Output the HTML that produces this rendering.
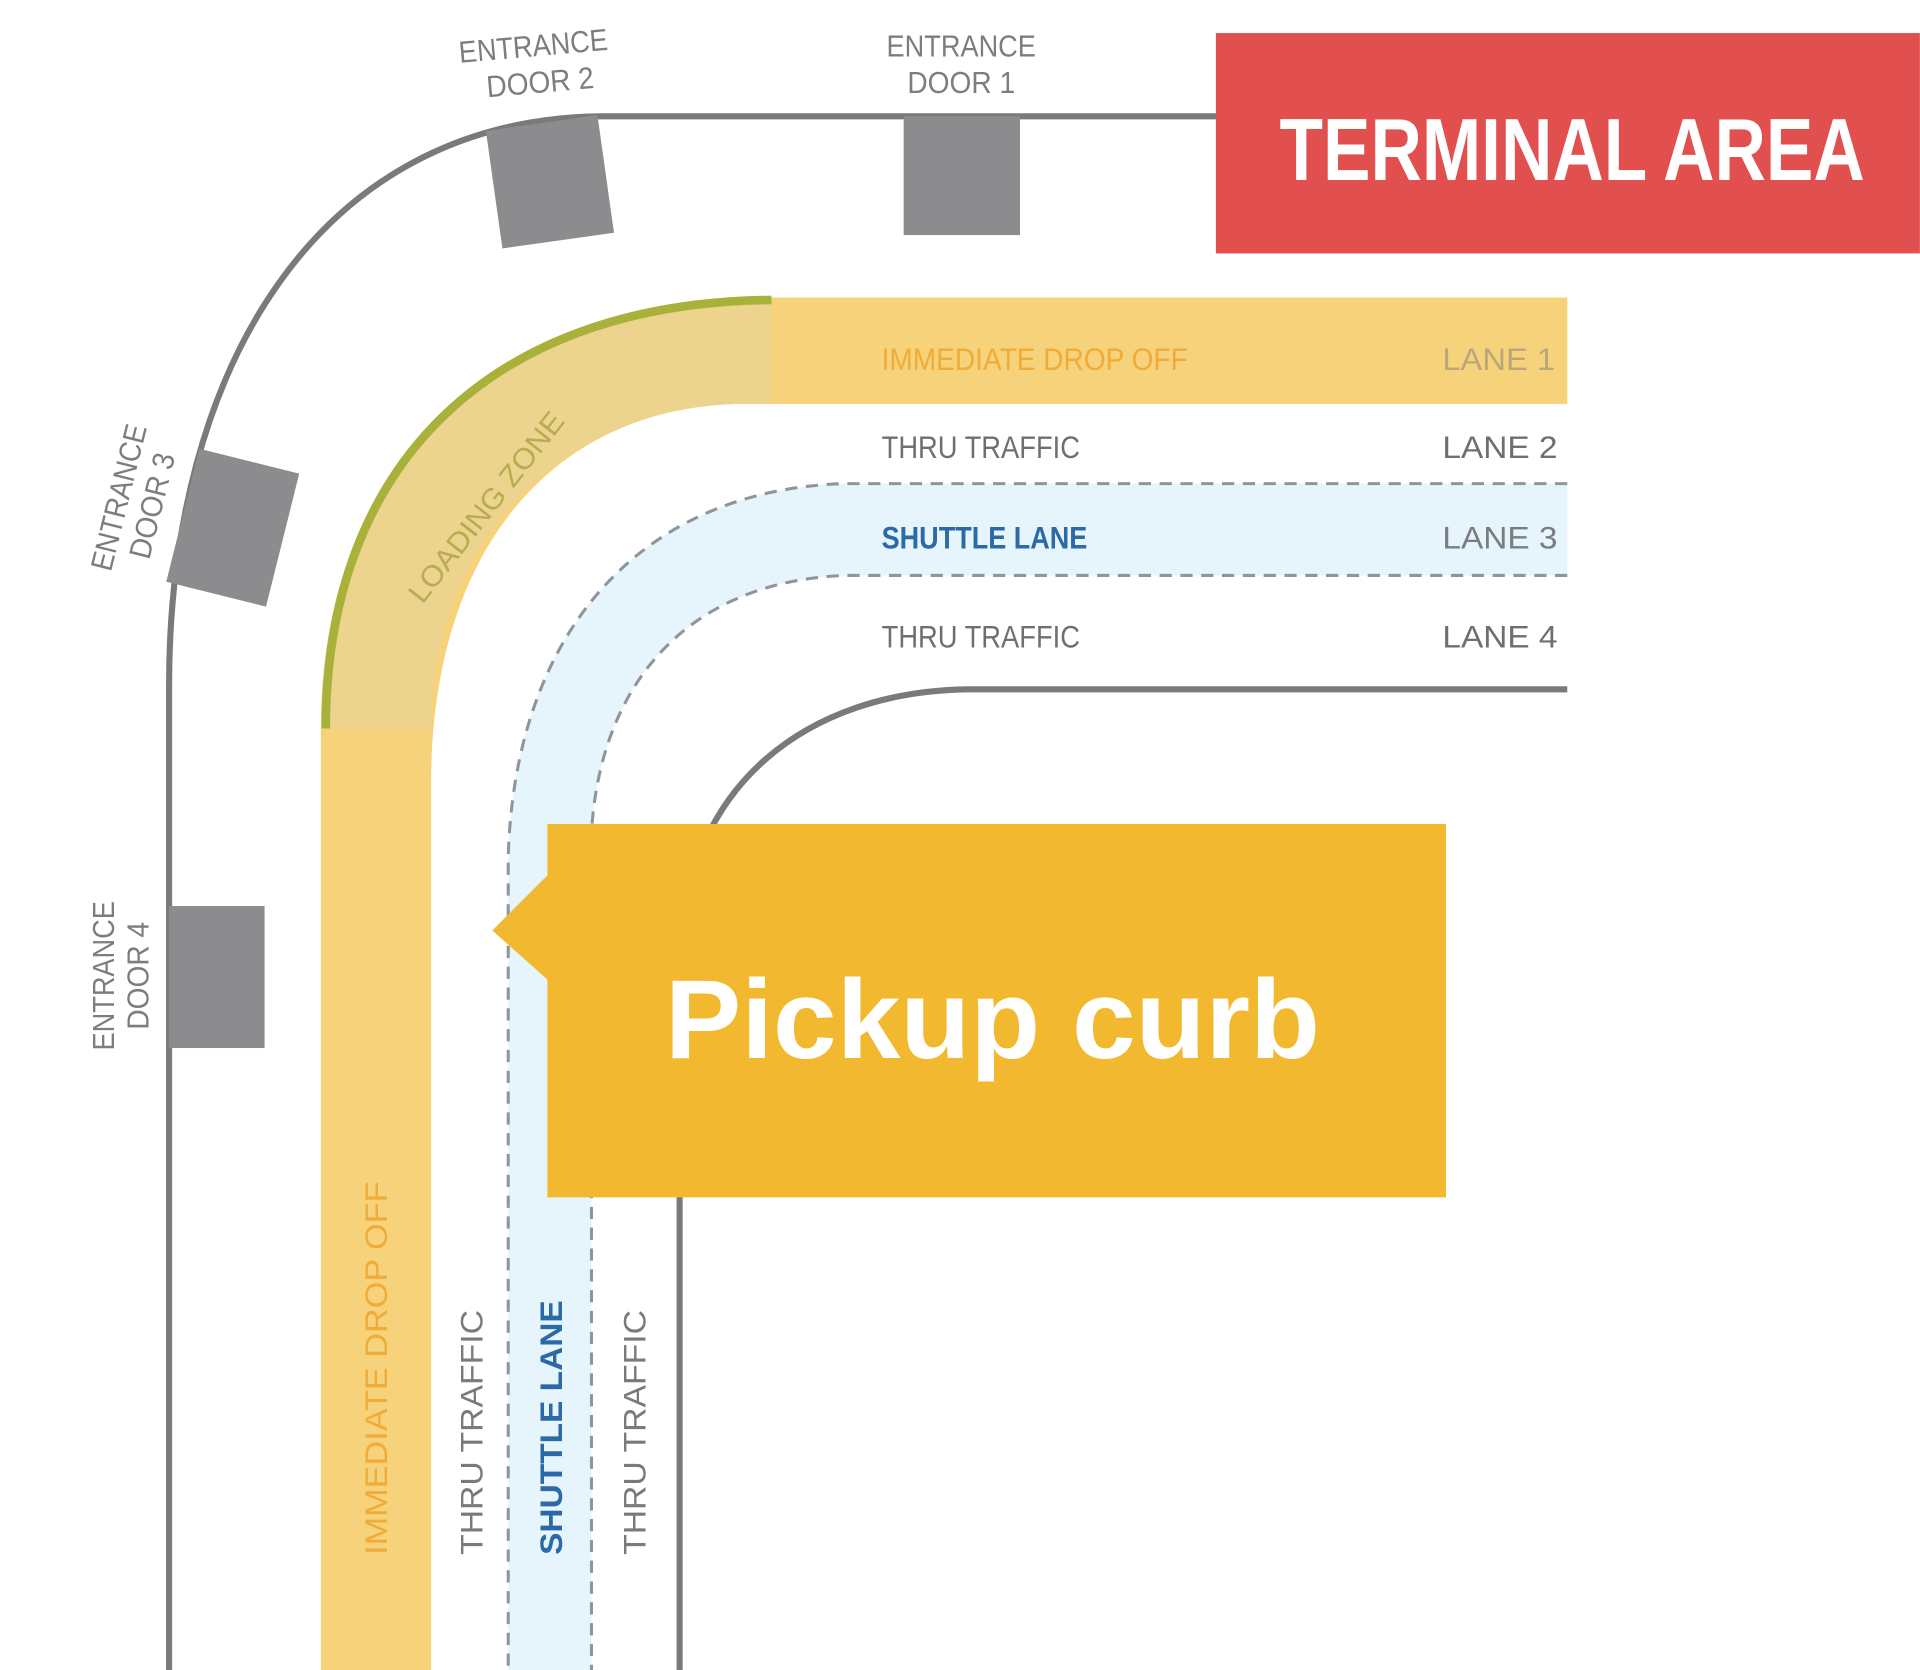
<!DOCTYPE html>
<html><head><meta charset="utf-8"><style>html,body{margin:0;padding:0;background:#fff}svg{display:block}</style></head>
<body>
<svg width="1920" height="1670" viewBox="0 0 1568 1364" xmlns="http://www.w3.org/2000/svg" font-family="'Liberation Sans Narrow','Liberation Sans',sans-serif">
<rect width="1568" height="1364" fill="#fff"/>
<path d="M1000 95 H490 C260 98 138 300 138 560 V1364" fill="none" stroke="#7a7a7c" stroke-width="5"/>
<path d="M1280 243 H630 C400 245 262 380 262 595 V1364 H352 V640 C352 450 450 335 600 330 H1280 Z" fill="#f6d27a"/>
<path d="M630 243 C400 245 262 380 262 595 H352 C352 450 450 335 600 330 H630 Z" fill="#ecd38e"/>
<path d="M630 245 C400 247 266 380 266 595" fill="none" stroke="#a8b23a" stroke-width="7"/>
<path d="M1280 395 H690 C520 400 420 520 415 700 V1364 H483 V680 C490 560 560 475 690 470 H1280 Z" fill="#e6f4fc"/>
<path d="M1280 395 H690 C520 400 420 520 415 700 V1364" fill="none" stroke="#8f959a" stroke-width="2.5" stroke-dasharray="10 7"/>
<path d="M1280 470 H690 C560 475 490 560 483 680 V1364" fill="none" stroke="#8f959a" stroke-width="2.5" stroke-dasharray="10 7"/>
<path d="M1280 563 H790 C660 565 560 640 555 780 V1364" fill="none" stroke="#7a7a7c" stroke-width="5"/>
<rect x="738" y="95" width="95" height="97" fill="#8c8c8f"/>
<rect x="403" y="100" width="92" height="97" fill="#8c8c8f" transform="rotate(-8 449 148)"/>
<rect x="148" y="375" width="84" height="112" fill="#8c8c8f" transform="rotate(14 190 431)"/>
<rect x="138" y="740" width="78" height="116" fill="#8c8c8f"/>
<rect x="993" y="27" width="575" height="180" fill="#e14f4f"/>
<text x="1045" y="147" font-size="72" font-weight="bold" fill="#fff" textLength="478" lengthAdjust="spacingAndGlyphs">TERMINAL AREA</text>
<g fill="#7d7d80" font-size="25">
<g transform="rotate(-5 437 55)"><text x="437" y="46" text-anchor="middle" textLength="122" lengthAdjust="spacingAndGlyphs">ENTRANCE</text><text x="440" y="76" text-anchor="middle" textLength="88" lengthAdjust="spacingAndGlyphs">DOOR 2</text></g>
<text x="785" y="46" text-anchor="middle" textLength="122" lengthAdjust="spacingAndGlyphs">ENTRANCE</text><text x="785" y="76" text-anchor="middle" textLength="88" lengthAdjust="spacingAndGlyphs">DOOR 1</text>
<g transform="rotate(-76 112 410)"><text x="112" y="403" text-anchor="middle" textLength="122" lengthAdjust="spacingAndGlyphs">ENTRANCE</text><text x="112" y="431" text-anchor="middle" textLength="88" lengthAdjust="spacingAndGlyphs">DOOR 3</text></g>
<g transform="rotate(-90 100 797)"><text x="100" y="790" text-anchor="middle" textLength="122" lengthAdjust="spacingAndGlyphs">ENTRANCE</text><text x="100" y="818" text-anchor="middle" textLength="88" lengthAdjust="spacingAndGlyphs">DOOR 4</text></g>
</g>
<g font-size="26">
<text x="720" y="302" fill="#f0ac38" textLength="250" lengthAdjust="spacingAndGlyphs">IMMEDIATE DROP OFF</text>
<text x="1178" y="302" fill="#b9a77a" textLength="92" lengthAdjust="spacingAndGlyphs">LANE 1</text>
<text x="720" y="374" fill="#6f6f72" textLength="162" lengthAdjust="spacingAndGlyphs">THRU TRAFFIC</text>
<text x="1178" y="374" fill="#6f6f72" textLength="94" lengthAdjust="spacingAndGlyphs">LANE 2</text>
<text x="720" y="448" fill="#2b6aa6" font-weight="bold" textLength="168" lengthAdjust="spacingAndGlyphs">SHUTTLE LANE</text>
<text x="1178" y="448" fill="#7a7d80" textLength="94" lengthAdjust="spacingAndGlyphs">LANE 3</text>
<text x="720" y="529" fill="#6f6f72" textLength="162" lengthAdjust="spacingAndGlyphs">THRU TRAFFIC</text>
<text x="1178" y="529" fill="#6f6f72" textLength="94" lengthAdjust="spacingAndGlyphs">LANE 4</text>
<text transform="translate(316 1270) rotate(-90)" fill="#f0ac38" textLength="305" lengthAdjust="spacingAndGlyphs">IMMEDIATE DROP OFF</text>
<text transform="translate(394 1270) rotate(-90)" fill="#7a7a7c" textLength="200" lengthAdjust="spacingAndGlyphs">THRU TRAFFIC</text>
<text transform="translate(459 1270) rotate(-90)" fill="#2b6aa6" font-weight="bold" textLength="208" lengthAdjust="spacingAndGlyphs">SHUTTLE LANE</text>
<text transform="translate(527 1270) rotate(-90)" fill="#7a7a7c" textLength="200" lengthAdjust="spacingAndGlyphs">THRU TRAFFIC</text>
<text transform="translate(345 494) rotate(-52)" fill="#b7ad50" font-size="24" textLength="190" lengthAdjust="spacingAndGlyphs">LOADING ZONE</text>
</g>
<path d="M447 673 H1181 V978 H447 V800 L402 760 L447 715 Z" fill="#f2b830"/>
<text x="543" y="864" font-family="'Liberation Sans',sans-serif" font-weight="bold" font-size="92" fill="#fff" textLength="535" lengthAdjust="spacingAndGlyphs">Pickup curb</text>
</svg>
</body></html>
